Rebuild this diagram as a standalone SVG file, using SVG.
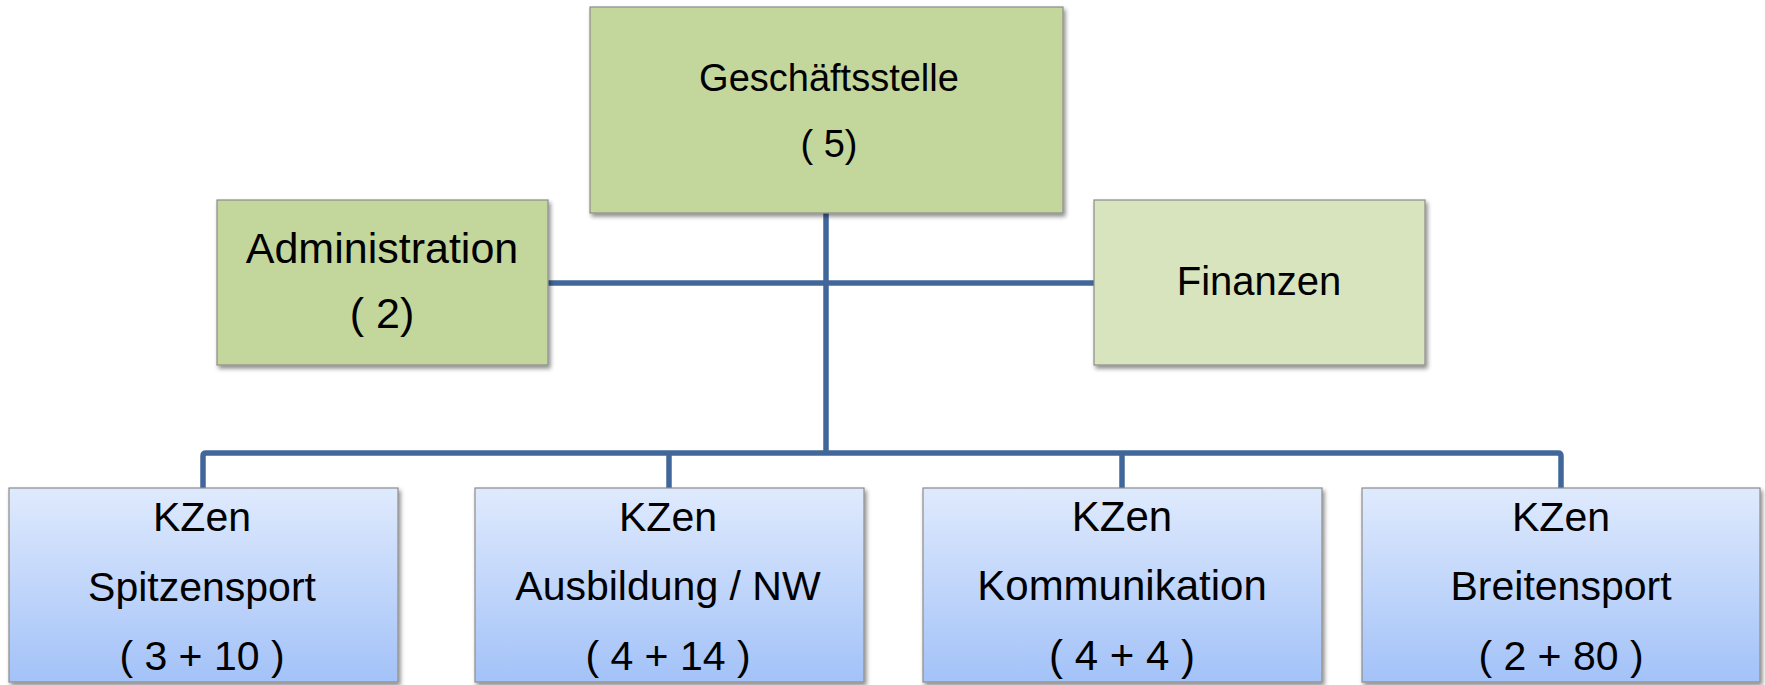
<svg xmlns="http://www.w3.org/2000/svg" width="1765" height="685" viewBox="0 0 1765 685">
<style>
.t{font-family:"Liberation Sans",Arial,sans-serif;fill:#000;text-anchor:middle}
.box{stroke:#8c8c8c;stroke-width:1.2;filter:url(#sh)}
.g1{fill:#c3d69b}
.g2{fill:#d7e4bd}
.b{fill:url(#bg)}
.con{fill:none;stroke:#41679a;stroke-width:5.5;stroke-linejoin:round}
</style>
<defs>
<linearGradient id="bg" x1="0" y1="0" x2="0" y2="1">
<stop offset="0" stop-color="#dfeafd"/>
<stop offset="1" stop-color="#a3c2f8"/>
</linearGradient>
<filter id="sh" x="-5%" y="-5%" width="115%" height="120%">
<feDropShadow dx="2" dy="3" stdDeviation="2" flood-color="#000" flood-opacity="0.45"/>
</filter>
</defs>
<rect width="1765" height="685" fill="#fff"/>
<g id="connectors">
<path class="con" d="M826 213 V453"/>
<path class="con" d="M548 283 H1094"/>
<path class="con" d="M203 488 V456 Q203 453 206 453 H1558 Q1561 453 1561 456 V488"/>
<path class="con" d="M669 453 V488"/>
<path class="con" d="M1122 453 V488"/>
</g>
<g id="geschaeftsstelle">
<rect class="box g1" x="590" y="7" width="473" height="206"/>
<text class="t" x="829" y="91" font-size="38">Geschäftsstelle</text>
<text class="t" x="829" y="157" font-size="38">( 5)</text>
</g>
<g id="administration">
<rect class="box g1" x="217" y="200" width="331" height="165"/>
<text class="t" x="382" y="263" font-size="43">Administration</text>
<text class="t" x="382" y="328" font-size="43">( 2)</text>
</g>
<g id="finanzen">
<rect class="box g2" x="1094" y="200" width="331" height="165"/>
<text class="t" x="1259" y="295" font-size="40">Finanzen</text>
</g>
<g id="spitzensport">
<rect class="box b" x="9" y="488" width="389" height="194"/>
<text class="t" x="202" y="531" font-size="41">KZen</text>
<text class="t" x="202" y="601" font-size="41">Spitzensport</text>
<text class="t" x="202" y="670" font-size="41">( 3 + 10 )</text>
</g>
<g id="ausbildung">
<rect class="box b" x="475" y="488" width="389" height="194"/>
<text class="t" x="668" y="531" font-size="41">KZen</text>
<text class="t" x="668" y="600" font-size="41">Ausbildung / NW</text>
<text class="t" x="668" y="670" font-size="41">( 4 + 14 )</text>
</g>
<g id="kommunikation">
<rect class="box b" x="923" y="488" width="399" height="194"/>
<text class="t" x="1122" y="531" font-size="42">KZen</text>
<text class="t" x="1122" y="600" font-size="42">Kommunikation</text>
<text class="t" x="1122" y="670" font-size="42">( 4 + 4 )</text>
</g>
<g id="breitensport">
<rect class="box b" x="1362" y="488" width="398" height="194"/>
<text class="t" x="1561" y="531" font-size="41">KZen</text>
<text class="t" x="1561" y="600" font-size="41">Breitensport</text>
<text class="t" x="1561" y="670" font-size="41">( 2 + 80 )</text>
</g>
</svg>
